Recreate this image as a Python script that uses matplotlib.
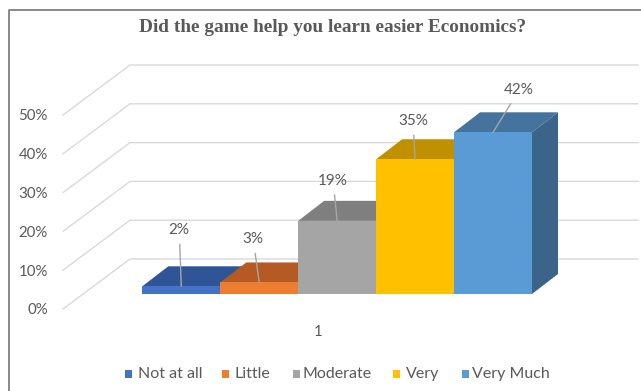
import matplotlib
matplotlib.use("Agg")
import matplotlib.pyplot as plt
from matplotlib.patches import Polygon, Rectangle
from matplotlib.lines import Line2D
from matplotlib.transforms import IdentityTransform

# ---- data -------------------------------------------------------------
title = "Did the game help you learn easier Economics?"
category_labels = ["1"]
series_names = ["Not at all", "Little", "Moderate", "Very", "Very Much"]
series_values = [2, 3, 19, 35, 42]          # percent of answers
value_ticks = [0, 10, 20, 30, 40, 50]
tick_labels = ["0%", "10%", "20%", "30%", "40%", "50%"]

# ---- style ------------------------------------------------------------
front_colors = ["#4472C4", "#ED7D31", "#A5A5A5", "#FFC000", "#5B9BD5"]
top_colors = ["#2F5597", "#B55A22", "#7F7F7F", "#BF9000", "#44739E"]
side_colors = ["#2B4F8C", "#A4511D", "#737373", "#AD8200", "#3A6489"]
text_color = "#595959"
grid_color = "#D9D9D9"
leader_color = "#A6A6A6"
ui_font = "Lato"

# label offsets from the top of each bar, in pixels (right, up)
label_offsets = [(-2, 56), (-6, 43), (-4, 40), (-2, 38), (26, 42)]

W, H = 641, 391
DEPTH_BAR = (26, 20)     # oblique depth of the bars (px)
DEPTH_WALL = (67, 50)    # oblique depth of the floor/back wall (px)

fig = plt.figure(figsize=(W / 100, H / 100), dpi=100)


def px_box(x0, y0, x1, y1):
    """Rectangle given in pixels from the top-left -> figure fraction."""
    return [x0 / W, 1 - y1 / H, (x1 - x0) / W, (y1 - y0) / H]


def px(x, y):
    """Top-left pixel position -> display coordinates."""
    return (x, H - y)


# ---- value axis with back-wall gridlines ------------------------------
ax_w = fig.add_axes(px_box(63, 115, 638, 309))
ax_w.set_xlim(0, 1)
ax_w.set_ylim(value_ticks[0], value_ticks[-1])
for s in ax_w.spines.values():
    s.set_visible(False)
ax_w.set_xticks([])
ax_w.set_yticks(value_ticks)
ax_w.set_yticklabels(tick_labels)
ax_w.tick_params(axis="y", length=0, pad=10.8, labelsize=10.8,
                 labelcolor=text_color)
for lab in ax_w.get_yticklabels():
    lab.set_fontfamily(ui_font)
ax_w.patch.set_visible(False)

back_right = 638
for v in value_ticks:
    x0, y0 = ax_w.transData.transform((0, v))
    xs = [x0, x0 + DEPTH_WALL[0], back_right]
    ys = [y0, y0 + DEPTH_WALL[1], y0 + DEPTH_WALL[1]]
    ax_w.add_line(Line2D(xs, ys, transform=IdentityTransform(),
                         color=grid_color, lw=1.0, clip_on=False))

# ---- 3-D style bars ----------------------------------------------------
k = 3.85  # pixels per percent
ax_b = fig.add_axes(px_box(142.3, 294 - 50 * k, 532, 294))
ax_b.set_xlim(-0.5, len(series_values) - 0.5)
ax_b.set_ylim(0, 50)
ax_b.axis("off")

dxb, dyb = DEPTH_BAR
for i, (name, v) in enumerate(zip(series_names, series_values)):
    fl = ax_b.transData.transform((i - 0.5, v))
    fr = ax_b.transData.transform((i + 0.5, v))
    br = ax_b.transData.transform((i + 0.5, 0))
    side = [fr, (fr[0] + dxb, fr[1] + dyb), (br[0] + dxb, br[1] + dyb), br]
    top = [fl, fr, (fr[0] + dxb, fr[1] + dyb), (fl[0] + dxb, fl[1] + dyb)]
    ax_b.add_patch(Polygon(side, closed=True, transform=IdentityTransform(),
                           facecolor=side_colors[i], edgecolor="none",
                           clip_on=False))
    ax_b.add_patch(Polygon(top, closed=True, transform=IdentityTransform(),
                           facecolor=top_colors[i], edgecolor="none",
                           clip_on=False))
    ax_b.bar([i], [v], width=1.0, color=front_colors[i], edgecolor="none",
             label=name, clip_on=False)

# data labels with leader lines
for i, v in enumerate(series_values):
    ox, oy = label_offsets[i]
    ax_b.annotate(f"{v}%", xy=(i, v), xycoords="data",
                  xytext=(ox * 0.72, oy * 0.72), textcoords="offset points",
                  ha="center", va="center", fontsize=11,
                  family=ui_font, color=text_color,
                  arrowprops=dict(arrowstyle="-", color=leader_color, lw=1.0,
                                  shrinkA=3, shrinkB=0),
                  annotation_clip=False)

# ---- category label ----------------------------------------------------
fig.text(317.7 / W, 1 - 331.7 / H, category_labels[0], ha="center",
         va="center", fontsize=10.8, family=ui_font, color=text_color)

# ---- title -------------------------------------------------------------
fig.text(332.5 / W, 1 - 31.5 / H, title, ha="center", va="baseline",
         fontsize=13.9, fontweight="bold", family="Liberation Serif",
         color=text_color)

# ---- legend --------------------------------------------------------------
square_x = [125, 221.7, 293, 393, 461.7]
text_x = [138, 235, 303, 406, 472]
for i, name in enumerate(series_names):
    fig.add_artist(Rectangle(px(square_x[i], 378.3), 7, 8,
                             transform=IdentityTransform(),
                             facecolor=front_colors[i], edgecolor="none"))
    fig.text(text_x[i] / W, 1 - 374 / H, name, ha="left", va="center",
             fontsize=11.5, family=ui_font, color=text_color)

# ---- chart frame -------------------------------------------------------
frame = Line2D([9, 9, W + 5], [-5, H - 9.5, H - 9.5],
               transform=IdentityTransform(), color="#808080", lw=1.3)
fig.add_artist(frame)

fig.savefig("out.png", dpi=100)
